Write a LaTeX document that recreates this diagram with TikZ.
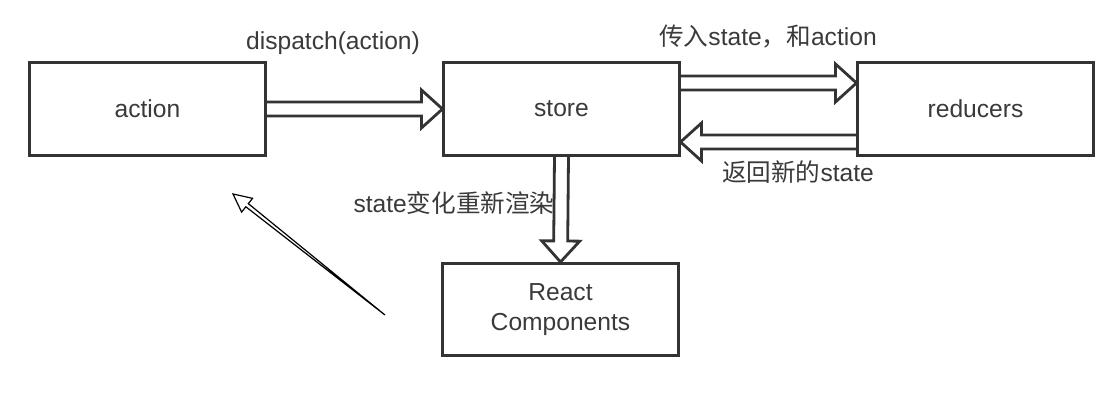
\documentclass[tikz,border=0pt]{standalone}
\usepackage{fontspec}
\setmainfont{Liberation Sans}
\newfontfamily\cjk{Noto Sans CJK SC}
\usetikzlibrary{calc}
\definecolor{linegray}{HTML}{333333}
\definecolor{textgray}{HTML}{3A3A3A}
\tikzset{%
	box/.style={draw=linegray,line width=0.075cm,minimum width=5.875cm,minimum height=2.3cm,text=textgray,font=\fontsize{17.5}{21}\selectfont,align=center},
	lbl/.style={text=textgray,font=\fontsize{17.5}{21}\selectfont,inner sep=0pt},
	fat/.style={draw=linegray,line width=0.07cm,line join=miter,to path={
		($(\tikztotarget)!0.525cm!(\tikztostart)$) coordinate (fat-h)
		($(\tikztostart)!0.175cm!90:(\tikztotarget)$) -- ($(fat-h)!0.175cm!90:(\tikztotarget)$)
		-- ($(fat-h)!0.475cm!90:(\tikztotarget)$) -- (\tikztotarget)
		-- ($(fat-h)!0.475cm!-90:(\tikztotarget)$) -- ($(fat-h)!0.175cm!-90:(\tikztotarget)$)
		-- ($(\tikztostart)!0.175cm!-90:(\tikztotarget)$)}},
	hint/.style={draw=black,line width=0.03cm,line join=miter}
}
\begin{document}
\begin{tikzpicture}[x=0.025cm,y=-0.025cm]
	\useasboundingbox (0,0) rectangle (1120,405);

	\node[box] (action) at (147.5,109) {action};
	\node[box] (store) at (561.5,109) {store};
	\node[box] (reducers) at (975.5,109) {reducers};
	\node[box] (react) at (560.5,309.5) {React\\Components};

	\coordinate (store-r1) at ($(store.east)+(0,-26)$);
	\coordinate (red-l1) at ($(reducers.west)+(0,-26)$);
	\coordinate (red-l2) at ($(reducers.west)+(0,33)$);
	\coordinate (store-r2) at ($(store.east)+(0,33)$);

	\draw[fat] (action.east) to (store.west);
	\draw[fat] (store-r1) to (red-l1);
	\draw[fat] (red-l2) to (store-r2);
	\draw[fat] (store.south) to (react.north);

	\node[lbl] (dispatch) at (333,43) {dispatch(action)};
	\node[lbl] (pass) at (768,37) {{\cjk 传入}state{\cjk ，和}action};
	\node[lbl] (back) at (798,172) {{\cjk 返回新的}state};
	\node[lbl] (rerender) at (454,203) {state{\cjk 变化重新渲染}};

	% thin arrow pointing back at action
	\coordinate (hint-tail) at (385,315);
	\coordinate (hint-tip) at (233,194);
	\coordinate (hint-base) at ($(hint-tip)!0.45cm!(hint-tail)$);
	\draw[hint] (hint-tail) -- ($(hint-base)!0.05cm!90:(hint-tip)$) -- ($(hint-base)!0.22cm!90:(hint-tip)$) -- (hint-tip)
		-- ($(hint-base)!0.22cm!-90:(hint-tip)$) -- ($(hint-base)!0.05cm!-90:(hint-tip)$) -- cycle;

\end{tikzpicture}
\end{document}
